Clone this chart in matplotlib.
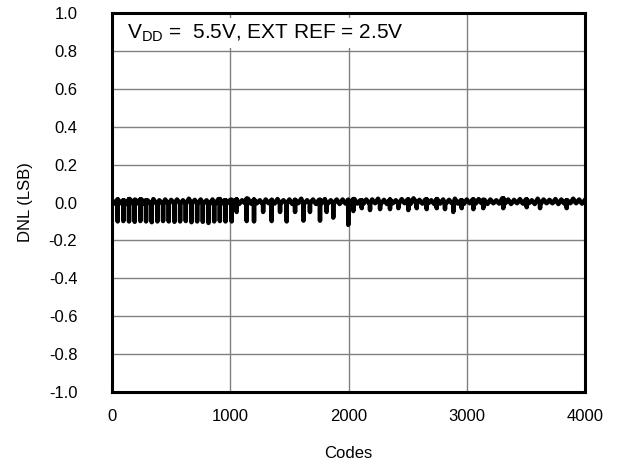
import numpy as np
import matplotlib
matplotlib.use("Agg")
import matplotlib.pyplot as plt

plt.rcParams['font.family'] = ['Liberation Sans', 'DejaVu Sans']

# --- data ---
# background noise band, sampled every 25 codes (0 .. 4000)
base_step = 25
base_dnl = [
    0.014, -0.006, 0.016, -0.004, 0.012, -0.008, 0.018, -0.004, 0.014, -0.006,
    0.016, -0.008, 0.012, -0.004, 0.018, -0.006, 0.012, -0.004, 0.016, -0.008,
    0.014, -0.004, 0.016, -0.006, 0.012, -0.008, 0.020, -0.004, 0.014, -0.006,
    0.016, -0.004, 0.012, -0.008, 0.016, -0.004, 0.018, -0.006, 0.012, -0.004,
    0.014, -0.006, 0.016, -0.008, 0.012, -0.004, 0.020, -0.006, 0.016, -0.004,
    0.012, -0.008, 0.016, -0.004, 0.014, -0.006, 0.018, -0.004, 0.012, -0.006,
    0.016, -0.008, 0.014, -0.004, 0.020, -0.006, 0.012, -0.004, 0.016, -0.008,
    0.014, -0.004, 0.018, -0.006, 0.012, -0.004, 0.016, -0.008, 0.016, -0.006,
    0.014, -0.004, 0.018, -0.006, 0.012, -0.008, 0.016, -0.004, 0.016, -0.004,
    0.020, -0.006, 0.014, -0.008, 0.016, -0.004, 0.012, -0.006, 0.018, -0.004,
    0.016, -0.008, 0.022, -0.004, 0.014, -0.006, 0.016, -0.004, 0.012, -0.008,
    0.018, -0.006, 0.016, -0.004, 0.014, -0.004, 0.020, -0.006, 0.012, -0.008,
    0.016, -0.004, 0.016, -0.006, 0.018, -0.004, 0.014, -0.008, 0.016, -0.004,
    0.012, -0.006, 0.022, -0.004, 0.016, -0.008, 0.014, -0.004, 0.018, -0.006,
    0.016, -0.004, 0.012, -0.008, 0.020, -0.006, 0.016, -0.004, 0.014, -0.004,
    0.018, -0.008, 0.016, -0.006, 0.012, -0.004, 0.020, -0.004, 0.016, -0.006,
    0.014,
]

# downward DNL spikes (code, value)
spike_codes = [
    48, 96, 144, 192, 240, 288, 336, 384, 432, 480,
    528, 576, 624, 672, 720, 768, 816, 864, 912, 960,
    1012, 1054, 1139, 1201, 1278, 1350, 1421, 1477, 1548, 1619,
    1674, 1759, 1815, 1871, 1998,
    2041, 2112, 2182, 2267, 2351, 2422, 2506, 2577, 2661, 2746,
    2816, 2886, 2957, 3056, 3140, 3309, 3507, 3620, 3845,
]
spike_dnl = [
    -0.100, -0.098, -0.100, -0.102, -0.098, -0.100, -0.104, -0.100, -0.098, -0.100,
    -0.102, -0.100, -0.098, -0.104, -0.100, -0.102, -0.108, -0.100, -0.098, -0.100,
    -0.100, -0.050, -0.098, -0.100, -0.050, -0.098, -0.050, -0.100, -0.050, -0.096,
    -0.050, -0.096, -0.050, -0.080, -0.118,
    -0.045, -0.030, -0.040, -0.035, -0.035, -0.030, -0.040, -0.030, -0.035, -0.030,
    -0.035, -0.050, -0.030, -0.035, -0.030, -0.030, -0.025, -0.030, -0.030,
]

x_ticks = [0, 1000, 2000, 3000, 4000]
y_ticks = [-1.0, -0.8, -0.6, -0.4, -0.2, 0.0, 0.2, 0.4, 0.6, 0.8, 1.0]

# merge band and spikes into one trace
base_codes = np.arange(len(base_dnl)) * base_step
codes = list(base_codes)
dnl = list(base_dnl)
for c, v in zip(spike_codes, spike_dnl):
    nb = base_dnl[min(int(round(c / base_step)), len(base_dnl) - 1)]
    codes += [c - 1, c, c + 1]
    dnl += [nb, v, nb]
order = np.argsort(codes, kind='stable')
codes = np.array(codes)[order]
dnl = np.array(dnl)[order]

fig = plt.figure(figsize=(6.19, 4.65), dpi=100)
ax = fig.add_axes([112 / 619, 1 - 392 / 465, 473 / 619, 379 / 465])

ax.plot(codes, dnl, color='black', linewidth=3.2, zorder=3)

ax.set_xlim(0, 4000)
ax.set_ylim(-1.0, 1.0)
ax.set_xticks(x_ticks)
ax.set_yticks(y_ticks)
ax.set_yticklabels([f"{v:.1f}" for v in y_ticks])
ax.tick_params(length=0, labelsize=12)
ax.tick_params(axis='y', pad=25)
ax.tick_params(axis='x', pad=12)
ax.grid(True, color='#808080', linewidth=1.0)
ax.set_axisbelow(True)
for s in ax.spines.values():
    s.set_linewidth(2.2)

ax.set_xlabel("Codes", fontsize=12, labelpad=16)
ax.set_ylabel("DNL (LSB)", fontsize=12, labelpad=11)

ax.text(0.032, 0.947, r"V$_\mathregular{DD}$ =  5.5V, EXT REF = 2.5V",
        transform=ax.transAxes, fontsize=15, va='center', ha='left', zorder=4,
        bbox=dict(facecolor='white', edgecolor='none', pad=3))

fig.savefig("out.png", dpi=100)
